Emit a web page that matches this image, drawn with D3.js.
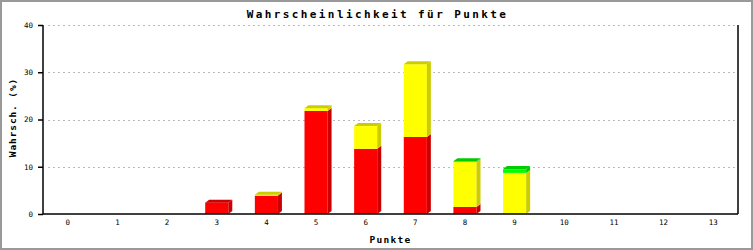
<!DOCTYPE html>
<html>
<head>
<meta charset="utf-8">
<script src="https://cdn.jsdelivr.net/npm/d3@7"></script>
<style>
  body { margin: 0; background: #fff; }
  text { font-family: "DejaVu Sans Mono", monospace; fill: #000; }
</style>
</head>
<body>
<div id="chart"></div>
<script>
// data
const punkte = ["0","1","2","3","4","5","6","7","8","9","10","11","12","13"];
const rot    = [0, 0, 0, 2.4, 3.9, 21.8, 13.8, 16.3, 1.5, 0, 0, 0, 0, 0];
const gelb   = [0, 0, 0, 0, 0.2, 0.6, 4.8, 15.4, 9.5, 8.7, 0, 0, 0, 0];
const gruen  = [0, 0, 0, 0, 0, 0, 0, 0, 0.15, 0.8, 0, 0, 0, 0];
const yTicks = [0, 10, 20, 30, 40];

const seriesColors = [
    { front: "#ff0000", shade: "#cc0000" },
    { front: "#ffff00", shade: "#cccc00" },
    { front: "#00ff00", shade: "#00cc00" }
];

const W = 753, H = 250;
const margin = { top: 25, right: 15, bottom: 36, left: 43 };
const width = W - margin.left - margin.right;
const height = H - margin.top - margin.bottom;
const depthX = 4, depthY = 3;

const svg = d3.select("#chart").append("svg")
    .attr("width", W)
    .attr("height", H);

// outer frame
svg.append("rect")
    .attr("x", 1).attr("y", 1)
    .attr("width", W - 2).attr("height", H - 2)
    .attr("fill", "none")
    .attr("stroke", "#999")
    .attr("stroke-width", 2);

const g = svg.append("g")
    .attr("transform", `translate(${margin.left},${margin.top})`);

const x = d3.scaleBand()
    .domain(punkte)
    .range([0, width])
    .paddingInner(0.535)
    .paddingOuter(0.2675);

const y = d3.scaleLinear()
    .domain([0, 40])
    .range([height, 0]);

// grid
g.selectAll(".grid")
    .data(yTicks.filter(d => d > 0))
    .enter().append("line")
    .attr("x1", 5).attr("x2", width)
    .attr("y1", d => Math.round(y(d)) + 0.5)
    .attr("y2", d => Math.round(y(d)) + 0.5)
    .attr("stroke", "#bbb")
    .attr("stroke-dasharray", "2,3");

// stacked 3D bars
const rows = punkte.map((p, i) => [rot[i], gelb[i], gruen[i]]);

rows.forEach((vals, i) => {
    const x0 = x(punkte[i]);
    const x1 = x0 + x.bandwidth();
    let base = 0;
    let topIdx = -1;
    vals.forEach((v, s) => { if (v > 0) topIdx = s; });
    vals.forEach((v, s) => {
        if (v <= 0) return;
        const yb = y(base), yt = y(base + v);
        const c = seriesColors[s];
        // front
        g.append("rect")
            .attr("x", x0).attr("y", yt)
            .attr("width", x1 - x0).attr("height", yb - yt)
            .attr("fill", c.front);
        // side
        g.append("path")
            .attr("d", `M${x1},${yb}L${x1 + depthX},${yb - depthY}L${x1 + depthX},${yt - depthY}L${x1},${yt}Z`)
            .attr("fill", c.shade);
        if (s === topIdx) {
            g.append("path")
                .attr("d", `M${x0},${yt}L${x0 + depthX},${yt - depthY}L${x1 + depthX},${yt - depthY}L${x1},${yt}Z`)
                .attr("fill", c.shade);
        }
        base += v;
    });
});

// axes
const yAxis = g.append("g")
    .call(d3.axisLeft(y).tickValues(yTicks).tickSize(5).tickPadding(5));
yAxis.select(".domain").remove();
yAxis.selectAll(".tick line").attr("stroke", "#000").attr("stroke-width", 1.5);
yAxis.selectAll(".tick text").attr("font-size", "7.5px").attr("font-family", "DejaVu Sans Mono");

g.append("line")
    .attr("x1", 0).attr("x2", 0)
    .attr("y1", 0).attr("y2", height)
    .attr("stroke", "#000").attr("stroke-width", 1.5);
g.append("line")
    .attr("x1", width).attr("x2", width)
    .attr("y1", 0).attr("y2", height)
    .attr("stroke", "#000").attr("stroke-width", 1.5);

const xAxis = g.append("g")
    .attr("transform", `translate(0,${height})`)
    .call(d3.axisBottom(x).tickSize(0).tickPadding(6));
xAxis.select(".domain").remove();
xAxis.selectAll(".tick text").attr("font-size", "7.5px").attr("font-family", "DejaVu Sans Mono");

g.append("line")
    .attr("x1", 0).attr("x2", width)
    .attr("y1", height).attr("y2", height)
    .attr("stroke", "#000").attr("stroke-width", 1.5);

// titles
svg.append("text")
    .attr("x", W / 2 + 1).attr("y", 18)
    .attr("text-anchor", "middle")
    .attr("font-size", "11px").attr("font-weight", "bold")
    .attr("letter-spacing", "2.4px")
    .text("Wahrscheinlichkeit für Punkte");

svg.append("text")
    .attr("x", margin.left + width / 2).attr("y", 243)
    .attr("text-anchor", "middle")
    .attr("font-size", "9.5px").attr("font-weight", "bold")
    .attr("letter-spacing", "1.3px")
    .text("Punkte");

svg.append("text")
    .attr("transform", `translate(16,${margin.top + height / 2 - 2}) rotate(-90)`)
    .attr("text-anchor", "middle")
    .attr("font-size", "9.5px").attr("font-weight", "bold")
    .attr("letter-spacing", "0.9px")
    .text("Wahrsch. (%)");
</script>
</body>
</html>
